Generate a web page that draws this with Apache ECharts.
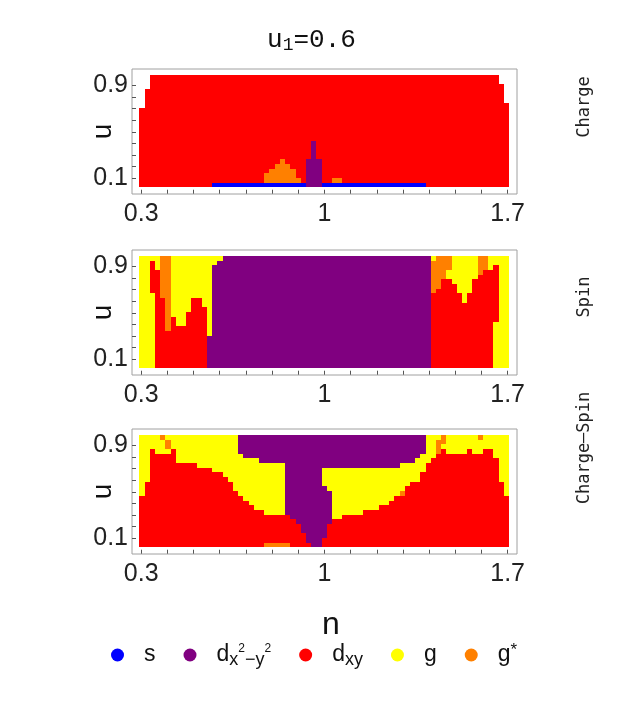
<!DOCTYPE html>
<html>
<head>
<meta charset="utf-8">
<title>u1=0.6 phase diagram</title>
<style>
  html, body { margin: 0; padding: 0; background: #fff; }
  #main { width: 623px; height: 701px; }
</style>
</head>
<body>
<div id="main"></div>
<script src="https://cdn.jsdelivr.net/npm/echarts@6/dist/echarts.min.js"></script>
<script>
// phase keys used in the column strings below ("." = no data)
var phaseKeys = ['B', 'P', 'R', 'Y', 'O'];
var phaseNames = ['s', 'dx2-y2', 'dxy', 'g', 'g*'];
var phaseColors = ['#0000ff', '#800080', '#ff0000', '#ffff00', '#ff8000'];
var panelNames = ['Charge', 'Spin', 'Charge\u2013Spin'];

// tick values / labels
var nTicks = [0.3, 0.4, 0.5, 0.6, 0.7, 0.8, 0.9, 1.0, 1.1, 1.2, 1.3, 1.4, 1.5, 1.6, 1.7];
var nLabels = [0.3, 1, 1.7];
var uTicks = [0.1, 0.2, 0.3, 0.4, 0.5, 0.6, 0.7, 0.8, 0.9];
var uLabels = [0.1, 0.9];

// extent of the computed grid
var nRange = [0.293, 1.705];
var uRange = [0.02, 0.992];
var rowsPerColumn = 24;

// one entry per n column (left to right), runs from u bottom to top,
// "count+phase", "*k" repeats the column k times
var charge = [
  '17R 7.', '21R 3.', '24R*12', '1B 23R*10',
  '1B 2O 21R', '1B 3O 20R', '1B 4O 19R', '1B 5O 18R', '1B 4O 19R', '1B 3O 20R', '1B 1O 22R',
  '1B 23R', '6P 18R', '10P 14R', '6P 18R', '1B 23R*2', '1B 1O 22R*2', '1B 23R*16',
  '24R*14', '22R 2.', '18R 6.'
];
var spin = [
  '24Y*2', '16Y 7R 1Y', '21R 3Y', '15R 9O', '8R 16O', '11R 13Y', '9R 15Y*2', '12R 12Y',
  '15R 9Y*2', '13R 11Y', '7P 17Y', '22P 2Y', '23P 1Y', '24P*40',
  '16R 7O 1Y', '17R 7O', '19R 5O', '19R 2Y 3O', '18R 6Y', '16R 8Y', '14R 10Y', '16R 8Y',
  '19R 5Y', '20R 4O', '21R 3O', '21R 3Y', '10Y 12R 2Y', '24Y*2'
];
var chargeSpin = [
  '11R 13Y', '14R 10Y', '21R 3Y', '20R 4Y', '20R 3Y 1O', '20R 1Y 2O 1Y', '21R 3Y',
  '18R 6Y*4', '17R 7Y*3', '16R 8Y*2', '15R 9Y', '14R 10Y', '12R 12Y',
  '11R 9Y 4P', '10R 9Y 5P', '9R 10Y 5P', '8R 11Y 5P', '8R 10Y 6P', '1O 6R 11Y 6P*4',
  '1O 6R 17P', '6R 18P', '5R 19P', '3R 21P', '1R 23P', '24P*2',
  '2R 11P 4Y 7P', '5R 7P 5Y 7P', '6R 11Y 7P*2', '7R 10Y 7P*4', '8R 9Y 7P*3', '9R 8Y 7P*2',
  '10R 7Y 7P', '11R 6Y 7P', '11R 1O 6Y 6P', '13R 5Y 6P', '14R 4Y 6P', '14R 5Y 5P', '16R 4Y 4P',
  '18R 6Y', '19R 5Y', '20R 3O 1Y', '21R 1Y 2O', '20R 4Y*4', '21R 3Y', '20R 4Y', '20R 3Y 1O',
  '21R 3Y*2', '19R 5Y', '14R 10Y', '11R 13Y'
];

function expandColumns(cols) {
  var out = [];
  cols.forEach(function (c) {
    var parts = c.split('*');
    var times = parts[1] ? parseInt(parts[1], 10) : 1;
    var runs = parts[0].trim().split(/\s+/).map(function (t) {
      return { len: parseInt(t, 10), key: t.slice(-1) };
    });
    for (var k = 0; k < times; k++) out.push(runs);
  });
  return out;
}

// cells grouped by phase: [n0, n1, u0, u1]
function buildCells(cols) {
  var dn = (nRange[1] - nRange[0]) / cols.length;
  var du = (uRange[1] - uRange[0]) / rowsPerColumn;
  var byPhase = phaseKeys.map(function () { return []; });
  cols.forEach(function (runs, j) {
    var row = 0;
    runs.forEach(function (r) {
      var p = phaseKeys.indexOf(r.key);
      if (p >= 0) {
        byPhase[p].push([nRange[0] + j * dn, nRange[0] + (j + 1) * dn,
          uRange[0] + row * du, uRange[0] + (row + r.len) * du]);
      }
      row += r.len;
    });
  });
  return byPhase;
}

function renderCell(params, api) {
  var a = api.coord([api.value(0), api.value(3)]);
  var b = api.coord([api.value(1), api.value(2)]);
  var x0 = Math.round(a[0]), y0 = Math.round(a[1]);
  var x1 = Math.round(b[0]), y1 = Math.round(b[1]);
  return {
    type: 'rect',
    shape: { x: x0, y: y0, width: x1 - x0, height: y1 - y0 },
    style: { fill: api.visual('color') }
  };
}

var chart = echarts.init(document.getElementById('main'));

var gridTops = [69, 250, 429];
var labelYs = [107, 297, 448];
var grids = [], xAxes = [], yAxes = [], series = [];
var fontSans = 'Liberation Sans';
var fontMono = 'Liberation Mono';

[charge, spin, chargeSpin].forEach(function (data, k) {
  grids.push({
    left: 132, width: 385, top: gridTops[k], height: 125,
    show: true, borderColor: '#a0a0a0', borderWidth: 1
  });
  xAxes.push({
    gridIndex: k, type: 'value', min: 0.2648, max: 1.7359,
    axisLine: { show: false },
    splitLine: { show: false },
    axisTick: { show: true, inside: false, length: 4, customValues: nTicks, lineStyle: { color: '#555' } },
    axisLabel: { customValues: nLabels, margin: 8, fontSize: 25, fontFamily: fontSans, color: '#222' },
    name: k === 2 ? 'n' : '',
    nameLocation: 'middle',
    nameGap: 55,
    nameMoveOverlap: false,
    nameTextStyle: { fontSize: 32, fontFamily: fontSans, color: '#111', padding: [0, 0, 0, 13] }
  });
  yAxes.push({
    gridIndex: k, type: 'value', min: -0.037, max: 1.043,
    axisLine: { show: false },
    splitLine: { show: false },
    axisTick: { show: true, inside: true, length: 4, customValues: uTicks, lineStyle: { color: '#555' } },
    axisLabel: { customValues: uLabels, margin: 4, fontSize: 25, fontFamily: fontSans, color: '#222' },
    name: 'u',
    nameLocation: 'middle',
    nameRotate: 90,
    nameGap: 15,
    nameMoveOverlap: false,
    nameTextStyle: { fontSize: 28, fontFamily: fontSans, color: '#111' }
  });
  var cells = buildCells(expandColumns(data));
  phaseKeys.forEach(function (key, p) {
    series.push({
      type: 'custom',
      name: phaseNames[p],
      xAxisIndex: k,
      yAxisIndex: k,
      renderItem: renderCell,
      encode: { x: [0, 1], y: [2, 3] },
      itemStyle: { color: phaseColors[p] },
      data: cells[p],
      silent: true,
      animation: false
    });
  });
});

var legendText = {
  's': '{t|s}',
  'dx2-y2': '{t|d}{sub|x}{sup|2}{sub|\u2212y}{sup|2}',
  'dxy': '{t|d}{sub|xy}',
  'g': '{t|g}',
  'g*': '{t|g}{star|*}'
};

var option = {
  backgroundColor: '#fff',
  animation: false,
  title: {
    text: 'u{sub|1}=0.6',
    left: 'center',
    top: 26,
    padding: 0,
    textStyle: {
      fontFamily: fontMono, fontSize: 26, fontWeight: 'normal', color: '#111',
      rich: {
        sub: { fontFamily: fontMono, fontSize: 18, padding: [10, 0, 0, 0], color: '#111' }
      }
    }
  },
  legend: {
    data: phaseNames,
    left: 111,
    top: 642,
    padding: 0,
    icon: 'circle',
    itemWidth: 13,
    itemHeight: 13,
    itemGap: 28,
    selectedMode: false,
    formatter: function (name) { return legendText[name]; },
    textStyle: {
      fontFamily: fontSans, fontSize: 23, color: '#111', padding: [0, 0, 0, 15],
      rich: {
        t: { fontFamily: fontSans, fontSize: 23, lineHeight: 26, color: '#111' },
        sub: { fontFamily: fontSans, fontSize: 18, padding: [10, 0, 0, 0], color: '#111' },
        sup: { fontFamily: fontSans, fontSize: 12, padding: [0, 0, 12, 0], color: '#111' },
        star: { fontFamily: fontSans, fontSize: 17, padding: [0, 0, 9, 0], color: '#111' }
      }
    }
  },
  grid: grids,
  xAxis: xAxes,
  yAxis: yAxes,
  series: series,
  graphic: panelNames.map(function (name, k) {
    return {
      type: 'text',
      x: 585,
      y: labelYs[k],
      rotation: Math.PI / 2,
      silent: true,
      style: {
        text: name,
        font: '17px "DejaVu Sans Mono"',
        fill: '#222',
        align: 'center',
        verticalAlign: 'middle',
        textAlign: 'center',
        textVerticalAlign: 'middle'
      }
    };
  })
};

chart.setOption(option);
</script>
</body>
</html>
